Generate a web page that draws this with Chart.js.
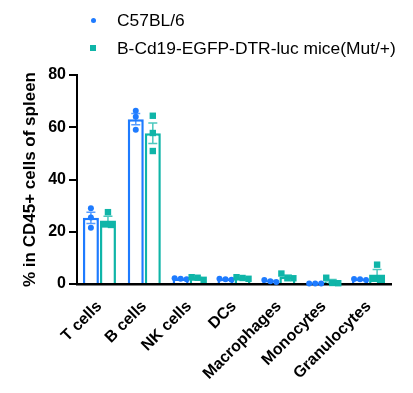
<!DOCTYPE html>
<html>
<head>
<meta charset="utf-8">
<script src="https://cdn.jsdelivr.net/npm/chart.js@4/dist/chart.umd.min.js"></script>
<style>
  body { margin: 0; background: #fff; }
  #wrap { position: relative; width: 413px; height: 393px; font-family: "Liberation Sans", Arial, sans-serif; }
  .legend-item { position: absolute; left: 117px; font-size: 17.4px; color: #000; line-height: 20px; white-space: nowrap; }
  .mark { position: absolute; }
</style>
</head>
<body>
<div id="wrap">
  <canvas id="chart" width="413" height="393"></canvas>
  <span class="mark" style="left:91px;top:18px;width:5px;height:5px;border-radius:50%;background:#1e7bff"></span>
  <div class="legend-item" style="top:10px">C57BL/6</div>
  <span class="mark" style="left:90px;top:45px;width:6px;height:6px;background:#0fb5a8"></span>
  <div class="legend-item" style="top:38px">B-Cd19-EGFP-DTR-luc mice(Mut/+)</div>
</div>
<script>
const categories = ['T cells', 'B cells', 'NK cells', 'DCs', 'Macrophages', 'Monocytes', 'Granulocytes']
const yTicks = [0, 20, 40, 60, 80]

// three mice per group, % of CD45+ cells
const wtPoints = [
    [29.0, 25.5, 21.5],
    [66.3, 64.0, 59.0],
    [2.0, 1.8, 2.2],
    [1.6, 2.0, 1.8],
    [0.8, 1.5, 1.1],
    [0.2, 0.2, 0.2],
    [1.5, 1.9, 1.8]
]
const mutPoints = [
    [27.5, 22.8, 22.6],
    [64.4, 57.8, 50.9],
    [1.6, 2.6, 2.4],
    [2.0, 2.6, 2.3],
    [4.0, 2.2, 2.2],
    [2.4, 0.3, 0.4],
    [7.4, 2.0, 1.6]
]

const blue = '#1e7bff'
const teal = '#0fb5a8'

const mean = arr => arr.reduce((a, b) => a + b, 0) / arr.length
const sem = arr => {
    const m = mean(arr)
    const sd = Math.sqrt(arr.reduce((a, b) => a + (b - m) ** 2, 0) / (arr.length - 1))
    return sd / Math.sqrt(arr.length)
}

const groups = [
    { points: wtPoints, color: blue, err: 'rgba(30,123,255,0.75)', shape: 'circle' },
    { points: mutPoints, color: teal, err: 'rgba(15,181,168,0.75)', shape: 'square' }
]

// error bars + individual mice, placed with the bar elements and the y scale
const dotsAndErrors = {
    id: 'dotsAndErrors',
    afterDatasetsDraw(chart) {
        const ctx = chart.ctx
        const y = chart.scales.y
        ctx.save()
        groups.forEach((g, i) => {
            const meta = chart.getDatasetMeta(i)
            meta.data.forEach((bar, j) => {
                const vals = g.points[j]
                const m = mean(vals)
                const s = sem(vals)
                const x = bar.x
                const yTop = y.getPixelForValue(m + s)
                const yBot = y.getPixelForValue(Math.max(0, m - s))
                ctx.strokeStyle = g.err
                ctx.lineWidth = 1.5
                ctx.beginPath()
                ctx.moveTo(x, yTop); ctx.lineTo(x, yBot)
                ctx.moveTo(x - 4.5, yTop); ctx.lineTo(x + 4.5, yTop)
                ctx.moveTo(x - 4.5, yBot); ctx.lineTo(x + 4.5, yBot)
                ctx.stroke()

                // spread points that would overlap
                const py = vals.map(v => y.getPixelForValue(v))
                const order = py.map((p, k) => k).sort((a, b) => py[a] - py[b])
                const clusters = []
                order.forEach(k => {
                    const last = clusters[clusters.length - 1]
                    if (last && py[k] - py[last[last.length - 1]] < 6) last.push(k)
                    else clusters.push([k])
                })
                ctx.fillStyle = g.color
                clusters.forEach(c => {
                    c.forEach((k, n) => {
                        const px = x + (n - (c.length - 1) / 2) * 6
                        ctx.beginPath()
                        if (g.shape === 'circle') {
                            ctx.arc(px, py[k], 3, 0, Math.PI * 2)
                        } else {
                            ctx.rect(px - 3.2, py[k] - 3.2, 6.4, 6.4)
                        }
                        ctx.fill()
                    })
                })
            })
        })
        ctx.restore()
    }
}

new Chart(document.querySelector('#chart'), {
    type: 'bar',
    plugins: [dotsAndErrors],
    data: {
        labels: categories,
        datasets: [
            {
                label: 'C57BL/6',
                data: wtPoints.map(mean),
                backgroundColor: '#ffffff',
                borderColor: blue,
                borderWidth: 2.5,
                categoryPercentage: 0.76,
                barPercentage: 0.94
            },
            {
                label: 'B-Cd19-EGFP-DTR-luc mice(Mut/+)',
                data: mutPoints.map(mean),
                backgroundColor: '#ffffff',
                borderColor: teal,
                borderWidth: 2.5,
                categoryPercentage: 0.76,
                barPercentage: 0.94
            }
        ]
    },
    options: {
        responsive: false,
        animation: false,
        devicePixelRatio: 1,
        layout: { padding: { top: 75, right: 22, left: 0, bottom: 0 } },
        plugins: {
            legend: { display: false },
            tooltip: { enabled: false }
        },
        scales: {
            x: {
                grid: { display: false, drawTicks: false },
                border: { display: true, color: '#000', width: 2.5 },
                ticks: {
                    color: '#000',
                    font: { family: 'Liberation Sans, Arial', size: 16, weight: 'bold' },
                    minRotation: 45,
                    maxRotation: 45,
                    padding: 13
                },
                afterFit(scale) { scale.height = 109 }
            },
            y: {
                min: 0,
                max: 80,
                afterBuildTicks(scale) { scale.ticks = yTicks.map(v => ({ value: v })) },
                grid: { drawOnChartArea: false, drawTicks: true, tickLength: 8, tickColor: '#000', lineWidth: 2 },
                border: { display: true, color: '#000', width: 2 },
                ticks: {
                    color: '#000',
                    padding: 3,
                    font: { family: 'Liberation Sans, Arial', size: 16, weight: 'bold' }
                },
                title: {
                    display: true,
                    text: '% in CD45+ cells of spleen',
                    color: '#000',
                    padding: { top: 20, bottom: 0 },
                    font: { family: 'Liberation Sans, Arial', size: 17, weight: 'bold' }
                },
                afterFit(scale) { scale.width = 77 }
            }
        }
    }
})
</script>
</body>
</html>
